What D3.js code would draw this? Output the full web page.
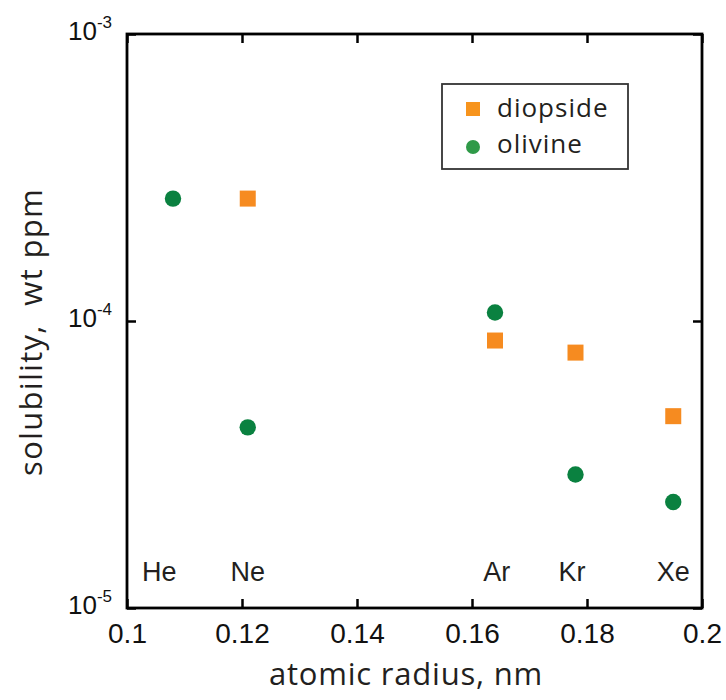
<!DOCTYPE html>
<html>
<head>
<meta charset="utf-8">
<script src="https://cdn.jsdelivr.net/npm/d3@7"></script>
<style>
  html, body { margin: 0; padding: 0; background: #fff; }
  svg { display: block; }
</style>
</head>
<body>
<svg id="chart" width="726" height="700"></svg>
<script>
// ---- data ----
const elements = ["He", "Ne", "Ar", "Kr", "Xe"];
const atomicRadius = [0.108, 0.121, 0.164, 0.178, 0.195];
const labelRadius = [0.1056, 0.121, 0.1643, 0.1774, 0.195];
const diopsideElements = ["Ne", "Ar", "Kr", "Xe"];
const diopsideRadius = [0.121, 0.164, 0.178, 0.195];
const diopsideSolubility = [2.67e-4, 8.55e-5, 7.76e-5, 4.66e-5];
const olivineElements = ["He", "Ne", "Ar", "Kr", "Xe"];
const olivineRadius = [0.108, 0.121, 0.164, 0.178, 0.195];
const olivineSolubility = [2.67e-4, 4.26e-5, 1.07e-4, 2.92e-5, 2.34e-5];
const xTicks = [0.1, 0.12, 0.14, 0.16, 0.18, 0.2];
const yTicks = [1e-5, 1e-4, 1e-3];
const seriesNames = ["diopside", "olivine"];

// ---- layout ----
const L = 127, R = 702, T = 34, B = 608;
const svg = d3.select("#chart");
const x = d3.scaleLinear().domain([0.1, 0.2]).range([L, R]);
const y = d3.scaleLog().domain([1e-5, 1e-3]).range([B, T]);

const ink = "#000";
const textInk = "#231f20";
const tickFont = "'Liberation Sans', Arial, sans-serif";
const titleFont = "'Open Sans', 'Noto Sans', sans-serif";
const orange = "#f68b20";
const green = "#0a8140";

// axes
const gx = svg.append("g").attr("transform", `translate(0,${B})`)
  .call(d3.axisBottom(x).tickValues(xTicks).tickSize(-9).tickPadding(15).tickFormat(d3.format("~g")));
const gxt = svg.append("g").attr("transform", `translate(0,${T})`)
  .call(d3.axisTop(x).tickValues(xTicks).tickSize(-9).tickFormat(""));
const gy = svg.append("g").attr("transform", `translate(${L},0)`)
  .call(d3.axisLeft(y).tickValues(yTicks).tickSize(-9).tickPadding(15).tickFormat(() => ""));
const gyr = svg.append("g").attr("transform", `translate(${R},0)`)
  .call(d3.axisRight(y).tickValues(yTicks).tickSize(-9).tickFormat(""));

[gx, gxt, gy, gyr].forEach(g => {
  g.select(".domain").remove();
  g.selectAll(".tick line").attr("stroke", ink).attr("stroke-width", 2.5);
});
gx.selectAll(".tick text").attr("font-family", tickFont).attr("font-size", 28).attr("fill", "#111");

gy.selectAll(".tick text").each(function(d) {
  const t = d3.select(this).attr("dy", null).attr("y", 5)
    .attr("font-family", tickFont).attr("font-size", 26).attr("fill", "#111");
  t.text(null);
  t.append("tspan").text("10");
  t.append("tspan").attr("dy", -12).attr("font-size", 17).text(String(Math.round(Math.log10(d))));
});

// frame
svg.append("rect").attr("x", L).attr("y", T).attr("width", R - L).attr("height", B - T)
  .attr("fill", "none").attr("stroke", ink).attr("stroke-width", 2.8);

// element labels
svg.append("g").selectAll("text").data(elements).join("text")
  .attr("x", (d, i) => x(labelRadius[i]))
  .attr("y", B - 27)
  .attr("text-anchor", "middle")
  .attr("font-family", tickFont).attr("font-size", 27).attr("fill", textInk)
  .text(d => d);

// olivine circles
svg.append("g").selectAll("circle").data(olivineSolubility).join("circle")
  .attr("cx", (d, i) => x(olivineRadius[i]))
  .attr("cy", d => y(d))
  .attr("r", 8.2)
  .attr("fill", green);

// diopside squares
const sq = 16;
svg.append("g").selectAll("rect").data(diopsideSolubility).join("rect")
  .attr("x", (d, i) => x(diopsideRadius[i]) - sq / 2)
  .attr("y", d => y(d) - sq / 2)
  .attr("width", sq).attr("height", sq)
  .attr("fill", orange);

// legend
const lg = svg.append("g");
lg.append("rect").attr("x", 442).attr("y", 84).attr("width", 186).attr("height", 85)
  .attr("fill", "#fff").attr("stroke", "#333").attr("stroke-width", 1.8);
lg.append("rect").attr("x", 466).attr("y", 102).attr("width", 14).attr("height", 14).attr("fill", "#f7941d");
lg.append("circle").attr("cx", 473).attr("cy", 147).attr("r", 7).attr("fill", "#2f9a48");
lg.selectAll("text.lt").data(seriesNames).join("text").attr("class", "lt")
  .attr("x", 497).attr("y", (d, i) => 117 + i * 36)
  .attr("font-family", titleFont).attr("font-size", 26).attr("letter-spacing", 1)
  .attr("fill", textInk)
  .text(d => d);

// axis titles
svg.append("text").attr("x", 406).attr("y", 685).attr("text-anchor", "middle")
  .attr("font-family", titleFont).attr("font-size", 31).attr("letter-spacing", 0.8)
  .attr("fill", textInk)
  .text("atomic radius, nm");
svg.append("text").attr("transform", "translate(42,332) rotate(-90)").attr("text-anchor", "middle")
  .attr("font-family", titleFont).attr("font-size", 31).attr("letter-spacing", 1.3)
  .attr("fill", textInk)
  .attr("xml:space", "preserve").style("white-space", "pre")
  .text("solubility,  wt ppm");
</script>
</body>
</html>
